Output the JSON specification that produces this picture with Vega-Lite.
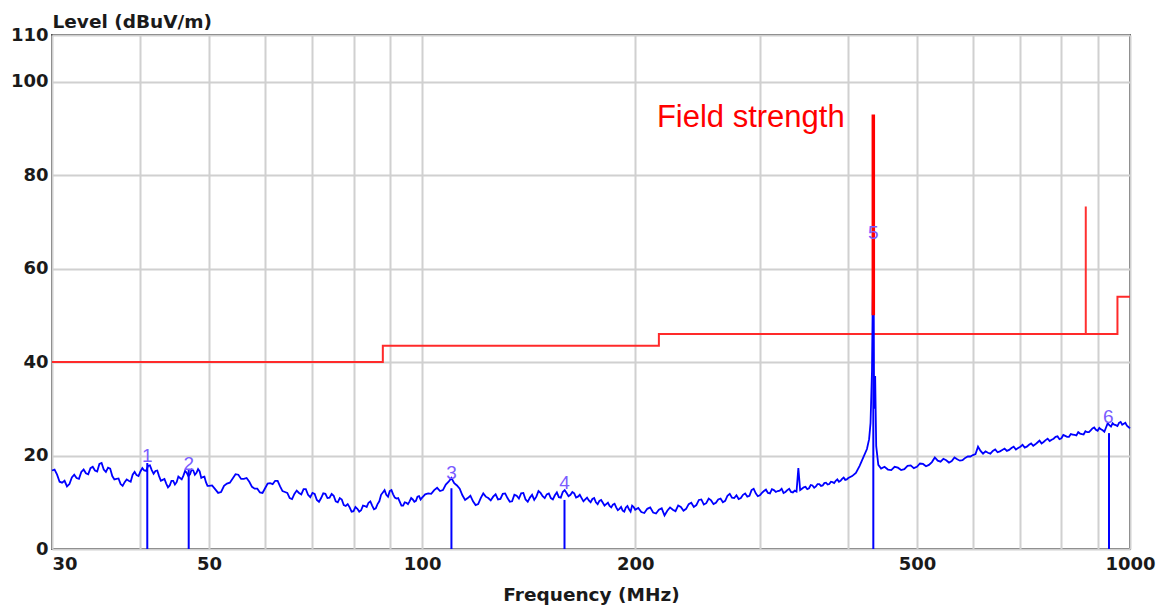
{
  "$schema": "https://vega.github.io/schema/vega-lite/v6.json",
  "width": 1078,
  "height": 514,
  "autosize": {"type": "none"},
  "padding": {"left": 52, "top": 35, "right": 28, "bottom": 61},
  "background": "white",
  "config": {
    "view": {"stroke": "#505050", "strokeWidth": 2},
    "axis": {
      "labelFont": "DejaVu Sans", "labelFontWeight": "bold", "labelFontSize": 18, "labelColor": "#1a1a1a",
      "titleFont": "DejaVu Sans", "titleFontWeight": "bold", "titleFontSize": 18.5, "titleColor": "#1a1a1a",
      "gridColor": "#d0d0d0", "gridWidth": 2, "gridOpacity": 1, "domain": false, "ticks": false, "labelOverlap": false
    }
  },
  "datasets": {
    "trace": [
      {"f":30,"L":16.8},{"f":30.5,"L":15.9},{"f":31,"L":14.2},{"f":31.5,"L":13.4},{"f":32,"L":15.3},{"f":32.5,"L":15.2},{"f":33,"L":16.5},{"f":33.5,"L":16.2},{"f":34,"L":17.3},{"f":34.5,"L":16.8},{"f":35,"L":18.2},{"f":35.5,"L":17.0},{"f":36,"L":17.4},{"f":36.5,"L":15.6},{"f":37,"L":15.0},{"f":37.5,"L":13.9},{"f":38,"L":14.3},{"f":38.5,"L":14.6},{"f":39,"L":15.9},{"f":39.5,"L":15.8},{"f":40,"L":16.6},{"f":40.5,"L":16.8},{"f":41,"L":17.8},{"f":41.5,"L":16.9},{"f":42,"L":16.7},{"f":42.5,"L":15.6},{"f":43,"L":14.8},{"f":43.5,"L":14.0},{"f":44,"L":13.6},{"f":44.5,"L":14.6},{"f":45,"L":14.3},{"f":45.5,"L":15.2},{"f":46,"L":15.7},{"f":46.5,"L":16.3},{"f":47,"L":16.0},{"f":47.5,"L":16.8},{"f":48,"L":16.3},{"f":48.5,"L":16.6},{"f":49,"L":15.4},{"f":49.5,"L":14.3},{"f":50,"L":13.5},
      {"f":30.25,"L":17.0},{"f":30.75,"L":14.4},{"f":31.25,"L":14.6},{"f":31.75,"L":13.9},{"f":32.25,"L":15.9},{"f":32.75,"L":15.0},{"f":33.25,"L":17.0},{"f":33.75,"L":16.0},{"f":34.25,"L":17.6},{"f":34.75,"L":16.6},{"f":35.25,"L":18.4},{"f":35.75,"L":16.5},{"f":36.25,"L":17.2},{"f":36.75,"L":14.9},{"f":37.25,"L":15.1},{"f":37.75,"L":13.5},{"f":38.25,"L":14.9},{"f":38.75,"L":14.4},{"f":39.25,"L":16.5},{"f":39.75,"L":15.6},{"f":40.25,"L":17.3},{"f":40.75,"L":16.7},{"f":41.25,"L":17.9},{"f":41.75,"L":16.1},{"f":42.25,"L":16.8},{"f":42.75,"L":14.6},{"f":43.25,"L":15.0},{"f":43.75,"L":13.2},{"f":44.25,"L":14.6},{"f":44.75,"L":13.8},{"f":45.25,"L":15.5},{"f":45.75,"L":14.9},{"f":46.25,"L":16.7},{"f":46.75,"L":15.6},{"f":47.25,"L":17.0},{"f":47.75,"L":15.9},{"f":48.25,"L":17.1},{"f":48.75,"L":15.2},{"f":49.25,"L":15.5},{"f":49.75,"L":13.5},
      {"f":51,"L":12.8},{"f":52,"L":12.2},{"f":53,"L":14.0},{"f":54,"L":15.1},{"f":55,"L":15.9},{"f":56,"L":15.0},{"f":57,"L":14.4},{"f":58,"L":12.9},{"f":59,"L":12.1},{"f":60,"L":13.0},{"f":61,"L":14.1},{"f":62,"L":14.6},{"f":63,"L":13.4},{"f":64,"L":12.2},{"f":65,"L":10.9},{"f":66,"L":11.8},{"f":67,"L":12.0},{"f":68,"L":12.8},{"f":69,"L":11.6},{"f":70,"L":12.0},{"f":71,"L":10.5},{"f":72,"L":10.9},{"f":73,"L":11.8},{"f":74,"L":11.0},{"f":75,"L":11.4},{"f":76,"L":10.0},{"f":77,"L":10.6},{"f":78,"L":9.2},{"f":79,"L":8.9},{"f":80,"L":8.1},{"f":81,"L":8.6},{"f":82,"L":8.3},{"f":83,"L":9.2},{"f":84,"L":9.9},{"f":85,"L":9.3},{"f":86,"L":8.7},{"f":87,"L":10.2},{"f":88,"L":12.1},{"f":89,"L":11.6},{"f":90,"L":12.4},{"f":91,"L":11.7},{"f":92,"L":10.8},{"f":93,"L":10.1},{"f":94,"L":9.3},{"f":95,"L":9.9},{"f":96,"L":10.2},{"f":97,"L":10.6},{"f":98,"L":10.3},{"f":99,"L":11.3},{"f":100,"L":11.0},
      {"f":50.5,"L":13.6},{"f":51.5,"L":12.0},{"f":52.5,"L":13.5},{"f":53.5,"L":14.2},{"f":54.5,"L":16.0},{"f":55.5,"L":15.0},{"f":56.5,"L":15.2},{"f":57.5,"L":13.3},{"f":58.5,"L":12.9},{"f":59.5,"L":12.0},{"f":60.5,"L":14.0},{"f":61.5,"L":13.9},{"f":62.5,"L":14.6},{"f":63.5,"L":12.4},{"f":64.5,"L":12.0},{"f":65.5,"L":10.7},{"f":66.5,"L":12.5},{"f":67.5,"L":11.7},{"f":68.5,"L":12.8},{"f":69.5,"L":11.1},{"f":70.5,"L":11.8},{"f":71.5,"L":10.1},{"f":72.5,"L":11.9},{"f":73.5,"L":10.9},{"f":74.5,"L":11.8},{"f":75.5,"L":10.2},{"f":76.5,"L":10.9},{"f":77.5,"L":9.4},{"f":78.5,"L":9.6},{"f":79.5,"L":8.0},{"f":80.5,"L":9.0},{"f":81.5,"L":8.0},{"f":82.5,"L":9.3},{"f":83.5,"L":9.0},{"f":84.5,"L":10.2},{"f":85.5,"L":8.5},{"f":86.5,"L":9.6},{"f":87.5,"L":11.6},{"f":88.5,"L":12.6},{"f":89.5,"L":11.2},{"f":90.5,"L":12.6},{"f":91.5,"L":11.0},{"f":92.5,"L":10.9},{"f":93.5,"L":9.3},{"f":94.5,"L":10.0},{"f":95.5,"L":9.6},{"f":96.5,"L":10.9},{"f":97.5,"L":10.1},{"f":98.5,"L":11.2},{"f":99.5,"L":10.6},
      {"f":102,"L":11.9},{"f":104,"L":12.6},{"f":106,"L":12.4},{"f":108,"L":13.8},{"f":110,"L":15.2},{"f":112,"L":13.6},{"f":114,"L":11.5},{"f":116,"L":10.9},{"f":118,"L":10.2},{"f":120,"L":9.6},{"f":122,"L":11.9},{"f":124,"L":10.9},{"f":126,"L":11.2},{"f":128,"L":10.6},{"f":130,"L":11.8},{"f":132,"L":10.9},{"f":134,"L":10.2},{"f":136,"L":11.4},{"f":138,"L":11.9},{"f":140,"L":10.6},{"f":142,"L":11.0},{"f":144,"L":10.5},{"f":146,"L":12.4},{"f":148,"L":11.3},{"f":150,"L":11.7},{"f":152,"L":10.9},{"f":154,"L":11.5},{"f":156,"L":11.1},{"f":158,"L":12.2},{"f":160,"L":12.0},{"f":162,"L":11.6},{"f":164,"L":11.9},{"f":166,"L":11.2},{"f":168,"L":10.9},{"f":170,"L":10.6},{"f":172,"L":10.4},{"f":174,"L":10.7},{"f":176,"L":10.0},{"f":178,"L":10.3},{"f":180,"L":9.9},{"f":182,"L":9.6},{"f":184,"L":9.2},{"f":186,"L":9.5},{"f":188,"L":8.9},{"f":190,"L":8.6},{"f":192,"L":8.2},{"f":194,"L":8.9},{"f":196,"L":8.5},{"f":198,"L":9.3},{"f":200,"L":8.4},
      {"f":101,"L":11.7},{"f":103,"L":11.8},{"f":105,"L":13.1},{"f":107,"L":12.6},{"f":109,"L":14.4},{"f":111,"L":14.1},{"f":113,"L":12.9},{"f":115,"L":10.5},{"f":117,"L":11.4},{"f":119,"L":9.4},{"f":121,"L":10.9},{"f":123,"L":11.2},{"f":125,"L":10.4},{"f":127,"L":11.7},{"f":129,"L":10.7},{"f":131,"L":11.9},{"f":133,"L":10.1},{"f":135,"L":11.6},{"f":137,"L":10.8},{"f":139,"L":12.0},{"f":141,"L":10.1},{"f":143,"L":11.6},{"f":145,"L":11.2},{"f":147,"L":12.0},{"f":149,"L":10.9},{"f":151,"L":11.9},{"f":153,"L":10.6},{"f":155,"L":12.1},{"f":157,"L":11.0},{"f":159,"L":12.6},{"f":161,"L":11.3},{"f":163,"L":12.2},{"f":165,"L":11.0},{"f":167,"L":11.6},{"f":169,"L":10.2},{"f":171,"L":11.0},{"f":173,"L":10.0},{"f":175,"L":10.9},{"f":177,"L":9.6},{"f":179,"L":10.5},{"f":181,"L":9.3},{"f":183,"L":9.9},{"f":185,"L":8.9},{"f":187,"L":9.7},{"f":189,"L":8.3},{"f":191,"L":9.0},{"f":193,"L":8.0},{"f":195,"L":9.2},{"f":197,"L":8.0},{"f":199,"L":9.0},
      {"f":204,"L":7.9},{"f":208,"L":8.6},{"f":212,"L":7.8},{"f":216,"L":8.4},{"f":220,"L":7.2},{"f":224,"L":8.9},{"f":228,"L":8.1},{"f":232,"L":9.0},{"f":236,"L":8.6},{"f":240,"L":9.9},{"f":244,"L":9.4},{"f":248,"L":10.6},{"f":252,"L":9.8},{"f":256,"L":10.4},{"f":260,"L":9.9},{"f":264,"L":10.8},{"f":268,"L":10.3},{"f":272,"L":11.8},{"f":276,"L":10.9},{"f":280,"L":10.7},{"f":284,"L":11.6},{"f":288,"L":11.2},{"f":292,"L":12.6},{"f":296,"L":11.9},{"f":300,"L":11.5},{"f":304,"L":12.4},{"f":308,"L":12.0},{"f":312,"L":12.8},{"f":316,"L":12.2},{"f":320,"L":12.5},{"f":324,"L":12.0},{"f":328,"L":12.6},{"f":332,"L":12.2},{"f":336,"L":12.5},{"f":338,"L":12.3},{"f":340,"L":17.3},{"f":342,"L":12.6},{"f":344,"L":12.9},{"f":348,"L":13.3},{"f":352,"L":13.0},{"f":356,"L":13.6},{"f":360,"L":13.4},{"f":364,"L":13.9},{"f":368,"L":13.6},{"f":372,"L":14.2},{"f":376,"L":13.9},{"f":380,"L":14.3},{"f":384,"L":14.6},{"f":388,"L":14.4},{"f":392,"L":15.0},{"f":396,"L":14.8},{"f":400,"L":15.2},
      {"f":202,"L":8.8},{"f":206,"L":7.7},{"f":210,"L":8.9},{"f":214,"L":7.6},{"f":218,"L":8.7},{"f":222,"L":8.2},{"f":226,"L":8.4},{"f":230,"L":9.3},{"f":234,"L":8.2},{"f":238,"L":9.6},{"f":242,"L":9.0},{"f":246,"L":10.5},{"f":250,"L":9.5},{"f":254,"L":10.8},{"f":258,"L":9.6},{"f":262,"L":10.6},{"f":266,"L":10.0},{"f":270,"L":11.4},{"f":274,"L":11.0},{"f":278,"L":11.5},{"f":282,"L":10.9},{"f":286,"L":11.9},{"f":290,"L":11.4},{"f":294,"L":12.9},{"f":298,"L":11.3},{"f":302,"L":12.0},{"f":306,"L":12.7},{"f":310,"L":11.9},{"f":314,"L":12.6},{"f":318,"L":12.4},{"f":322,"L":12.9},{"f":326,"L":12.2},{"f":330,"L":12.9},{"f":334,"L":12.1},{"f":346,"L":13.2},{"f":350,"L":12.8},{"f":354,"L":13.7},{"f":358,"L":13.1},{"f":362,"L":13.9},{"f":366,"L":13.5},{"f":370,"L":14.1},{"f":374,"L":13.8},{"f":378,"L":14.4},{"f":382,"L":14.1},{"f":386,"L":14.9},{"f":390,"L":14.6},{"f":394,"L":15.3},{"f":398,"L":14.9},
      {"f":405,"L":15.6},{"f":410,"L":16.3},{"f":415,"L":17.8},{"f":420,"L":19.6},{"f":425,"L":21.4},{"f":428,"L":23.5},{"f":430,"L":27.0},{"f":432,"L":38.0},{"f":433.9,"L":64.7},{"f":435,"L":30.0},{"f":436.5,"L":37.0},{"f":438,"L":22.0},{"f":441,"L":18.0},{"f":445,"L":17.2},{"f":450,"L":17.6},{"f":460,"L":16.9},{"f":470,"L":17.4},{"f":480,"L":17.1},{"f":490,"L":17.9},{"f":500,"L":17.6},{"f":510,"L":18.2},{"f":520,"L":18.0},{"f":530,"L":19.6},{"f":540,"L":18.7},{"f":550,"L":19.0},{"f":560,"L":18.8},{"f":570,"L":19.2},{"f":580,"L":19.0},{"f":590,"L":19.8},{"f":600,"L":20.1},{"f":610,"L":21.9},{"f":620,"L":20.4},{"f":630,"L":20.6},{"f":640,"L":21.0},{"f":650,"L":20.7},{"f":660,"L":21.2},{"f":670,"L":21.0},{"f":680,"L":21.6},{"f":690,"L":21.3},{"f":700,"L":21.9},{"f":710,"L":21.7},{"f":720,"L":22.3},{"f":730,"L":22.1},{"f":740,"L":22.8},{"f":750,"L":22.6},{"f":760,"L":23.3},{"f":770,"L":23.1},{"f":780,"L":23.6},{"f":790,"L":24.1},{"f":800,"L":23.7},{"f":810,"L":24.2},{"f":820,"L":24.0},{"f":830,"L":24.5},{"f":840,"L":24.3},{"f":850,"L":24.7},{"f":860,"L":24.5},{"f":870,"L":25.0},{"f":880,"L":25.4},{"f":890,"L":26.0},{"f":900,"L":25.3},{"f":910,"L":25.6},{"f":920,"L":25.1},{"f":930,"L":26.9},{"f":940,"L":26.2},{"f":950,"L":26.6},{"f":960,"L":26.3},{"f":970,"L":27.2},{"f":980,"L":26.8},{"f":990,"L":26.4},{"f":1000,"L":25.8},
      {"f":455,"L":17.0},{"f":465,"L":17.6},{"f":475,"L":16.9},{"f":485,"L":17.8},{"f":495,"L":17.3},{"f":505,"L":18.3},{"f":515,"L":17.7},{"f":525,"L":18.6},{"f":535,"L":18.9},{"f":545,"L":19.3},{"f":555,"L":18.5},{"f":565,"L":19.6},{"f":575,"L":18.9},{"f":585,"L":19.5},{"f":595,"L":19.8},{"f":605,"L":20.3},{"f":615,"L":21.0},{"f":625,"L":20.9},{"f":635,"L":20.4},{"f":645,"L":21.3},{"f":655,"L":20.9},{"f":665,"L":21.5},{"f":675,"L":21.2},{"f":685,"L":21.9},{"f":695,"L":21.6},{"f":705,"L":22.3},{"f":715,"L":21.9},{"f":725,"L":22.6},{"f":735,"L":22.4},{"f":745,"L":23.2},{"f":755,"L":22.9},{"f":765,"L":23.6},{"f":775,"L":23.4},{"f":785,"L":24.0},{"f":795,"L":23.5},{"f":805,"L":24.4},{"f":815,"L":24.0},{"f":825,"L":24.6},{"f":835,"L":24.4},{"f":845,"L":25.0},{"f":855,"L":24.6},{"f":865,"L":25.2},{"f":875,"L":25.0},{"f":885,"L":25.8},{"f":895,"L":25.5},{"f":905,"L":25.9},{"f":915,"L":25.4},{"f":925,"L":26.0},{"f":935,"L":26.5},{"f":945,"L":26.9},{"f":955,"L":26.5},{"f":965,"L":27.0},{"f":975,"L":26.6},{"f":985,"L":27.0},{"f":995,"L":26.1}
    ],
    "limit": [
      {"i":0,"f":30,"L":40},{"i":1,"f":88,"L":40},{"i":2,"f":88,"L":43.5},{"i":3,"f":216,"L":43.5},{"i":4,"f":216,"L":46},{"i":5,"f":960,"L":46},{"i":6,"f":960,"L":54},{"i":7,"f":1000,"L":54}
    ],
    "spikes": [
      {"k":"carrier","f":433.9,"L":50,"L2":93},
      {"k":"other","f":866,"L":46,"L2":73.3}
    ],
    "markers": [
      {"n":"1","f":40.9,"L":0,"L2":18.4},
      {"n":"2","f":46.8,"L":0,"L2":16.9},
      {"n":"3","f":110.0,"L":0,"L2":13.0},
      {"n":"4","f":158.9,"L":0,"L2":10.5},
      {"n":"5","f":433.9,"L":0,"L2":64.7},
      {"n":"6","f":934,"L":0,"L2":24.8}
    ],
    "markerLabels": [
      {"n":"1","f":40.9,"L":20.0},
      {"n":"2","f":46.8,"L":18.2},
      {"n":"3","f":110.0,"L":16.3},
      {"n":"4","f":158.9,"L":14.1},
      {"n":"5","f":433.9,"L":67.6},
      {"n":"6","f":932,"L":28.3}
    ],
    "notes": [
      {"t":"Field strength","f":214.6,"L":90.3}
    ]
  },
  "encoding": {
    "x": {
      "field": "f", "type": "quantitative",
      "scale": {"type": "log", "domain": [30, 1000], "nice": false},
      "axis": {
        "values": [30,40,50,60,70,80,90,100,200,300,400,500,600,700,800,900,1000],
        "format": "d",
        "labelExpr": "indexof([30,50,100,200,500,1000], datum.value) >= 0 ? datum.label : ''",
        "labelAlign": {"condition": {"test": "datum.value == 30", "value": "left"}, "value": "center"},
        "labelPadding": 6,
        "title": "Frequency (MHz)",
        "titlePadding": 12
      }
    },
    "y": {
      "field": "L", "type": "quantitative",
      "scale": {"domain": [0, 110], "nice": false},
      "axis": {
        "values": [0,20,40,60,80,100,110],
        "labelPadding": 4,
        "title": "Level (dBuV/m)",
        "titleAngle": 0, "titleAlign": "left", "titleBaseline": "alphabetic",
        "titleX": 0, "titleY": -8
      }
    }
  },
  "layer": [
    {
      "data": {"name": "limit"},
      "mark": {"type": "line", "color": "#ff2a2a", "strokeWidth": 2},
      "encoding": {"order": {"field": "i", "type": "quantitative"}}
    },
    {
      "data": {"name": "trace"},
      "mark": {"type": "line", "color": "#0000ff", "strokeWidth": 1.8}
    },
    {
      "data": {"name": "markers"},
      "mark": {"type": "rule", "color": "#0000ff", "strokeWidth": 2},
      "encoding": {"y2": {"field": "L2"}}
    },
    {
      "data": {"name": "spikes"},
      "transform": [{"filter": "datum.k == 'carrier'"}],
      "mark": {"type": "rule", "color": "#ff0000", "strokeWidth": 3.5},
      "encoding": {"y2": {"field": "L2"}}
    },
    {
      "data": {"name": "spikes"},
      "transform": [{"filter": "datum.k == 'other'"}],
      "mark": {"type": "rule", "color": "#ff3030", "strokeWidth": 2},
      "encoding": {"y2": {"field": "L2"}}
    },
    {
      "data": {"name": "markerLabels"},
      "mark": {"type": "text", "color": "#7a5cff", "font": "Liberation Sans", "fontSize": 19, "align": "center", "baseline": "middle"},
      "encoding": {"text": {"field": "n"}}
    },
    {
      "data": {"name": "notes"},
      "mark": {"type": "text", "color": "#ff0000", "font": "Liberation Sans", "fontSize": 31, "align": "left", "baseline": "alphabetic"},
      "encoding": {"text": {"field": "t"}}
    }
  ]
}
